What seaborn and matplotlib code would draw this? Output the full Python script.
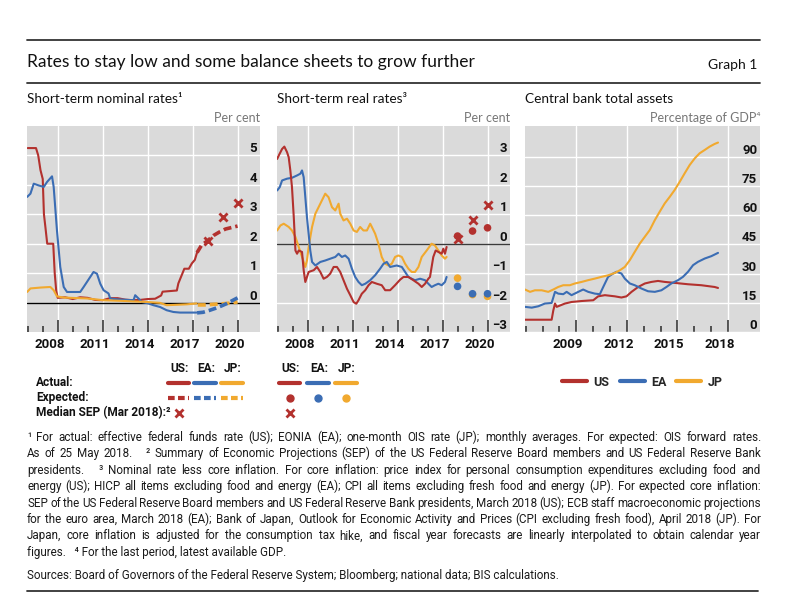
import matplotlib
matplotlib.use("Agg")
import pandas as pd
import matplotlib.pyplot as plt
import seaborn as sns
from matplotlib.lines import Line2D
from matplotlib.transforms import ScaledTranslation

# ---- data ----
# Short-term nominal rates (per cent)
us_nom_t = [2007.0, 2007.55, 2007.7, 2007.85, 2008.0, 2008.08, 2008.17, 2008.3, 2008.7, 2008.8, 2008.9,
            2009.0, 2009.5, 2010.0, 2010.5, 2011.0, 2011.5, 2012.0, 2012.5, 2013.0, 2013.5, 2014.0,
            2014.5, 2015.0, 2015.5, 2015.9, 2016.0, 2016.95, 2017.05, 2017.25, 2017.45, 2017.75,
            2017.95, 2018.15, 2018.3]
us_nom_v = [5.25, 5.25, 5.0, 4.5, 4.2, 3.0, 2.6, 2.0, 2.0, 1.0, 0.4,
            0.16, 0.18, 0.12, 0.18, 0.16, 0.09, 0.08, 0.15, 0.15, 0.1, 0.08,
            0.09, 0.12, 0.13, 0.24, 0.37, 0.41, 0.65, 0.9, 1.15, 1.15,
            1.33, 1.45, 1.7]
us_exp_t = [2018.3, 2018.6, 2019.0, 2019.4, 2019.8, 2020.2, 2020.6, 2021.0]
us_exp_v = [1.7, 1.95, 2.1, 2.28, 2.4, 2.5, 2.55, 2.6]
sep_t = [2019.0, 2020.0, 2021.0]
us_sep_nom = [2.1, 2.9, 3.4]

ea_nom_t = [2006.96, 2007.18, 2007.4, 2007.73, 2008.07, 2008.29, 2008.62, 2008.73, 2008.95, 2009.17,
            2009.4, 2009.62, 2010.5, 2010.73, 2010.95, 2011.17, 2011.39, 2011.62, 2011.84, 2012.06,
            2012.39, 2012.5, 2012.95, 2014.06, 2014.17, 2014.39, 2014.61, 2015.05, 2015.39, 2015.83,
            2016.27, 2016.72, 2017.16, 2018.27]
ea_nom_v = [3.59, 3.7, 4.04, 3.98, 3.93, 4.1, 4.29, 3.93, 2.45, 1.21,
            0.53, 0.36, 0.36, 0.53, 0.7, 0.87, 1.04, 0.98, 0.64, 0.42,
            0.31, 0.14, 0.11, 0.08, 0.25, 0.14, 0.02, -0.03, -0.09, -0.15,
            -0.26, -0.32, -0.34, -0.34]
ea_exp_t = [2018.3, 2018.7, 2019.1, 2019.5, 2019.9, 2020.3, 2020.7, 2021.0]
ea_exp_v = [-0.35, -0.33, -0.27, -0.2, -0.12, -0.03, 0.08, 0.16]

jp_nom_t = [2006.96, 2007.18, 2007.84, 2008.51, 2008.73, 2008.95, 2009.4, 2010.95, 2012.06, 2013.17,
            2014.94, 2015.83, 2016.27, 2017.6, 2018.27]
jp_nom_v = [0.36, 0.48, 0.51, 0.53, 0.42, 0.21, 0.17, 0.14, 0.08, 0.06,
            0.02, -0.01, -0.09, -0.06, -0.03]
jp_exp_t = [2018.35, 2018.8, 2019.4, 2020.0, 2020.5, 2021.0]
jp_exp_v = [-0.08, -0.08, -0.06, -0.04, -0.02, 0.02]

# Short-term real rates (per cent)
us_real_t = [2006.96, 2007.07, 2007.29, 2007.44, 2007.62, 2007.73, 2007.84, 2007.95, 2008.07, 2008.18,
             2008.29, 2008.4, 2008.62, 2008.73, 2008.84, 2008.95, 2009.06, 2009.4, 2009.62, 2009.84,
             2010.06, 2010.28, 2010.5, 2010.73, 2010.95, 2011.17, 2011.39, 2011.62, 2011.84, 2012.06,
             2012.24, 2012.39, 2012.61, 2012.84, 2013.06, 2013.28, 2013.61, 2013.94, 2014.17, 2014.5,
             2014.83, 2015.17, 2015.39, 2015.72, 2016.05, 2016.39, 2016.61, 2016.83, 2017.05, 2017.16,
             2017.27, 2017.38, 2017.54, 2017.72, 2017.94, 2018.05, 2018.16, 2018.27]
us_real_v = [2.88, 3.0, 3.22, 3.3, 3.11, 2.94, 2.49, 1.92, 0.9, -0.23,
             -0.34, -0.23, -0.28, -0.9, -1.3, -1.13, -0.96, -0.9, -0.79, -0.96,
             -1.19, -1.13, -1.02, -0.79, -0.79, -0.96, -1.24, -1.53, -1.75, -1.98,
             -2.04, -1.92, -1.7, -1.58, -1.41, -1.3, -1.36, -1.41, -1.58, -1.58,
             -1.41, -1.22, -1.13, -1.13, -1.24, -1.36, -1.47, -1.36, -1.19, -1.13,
             -0.79, -0.45, -0.23, -0.28, -0.34, -0.17, -0.34, -0.11]
ea_real_t = [2006.96, 2007.13, 2007.29, 2007.62, 2007.95, 2008.29, 2008.51, 2008.62, 2008.73, 2008.84,
             2008.95, 2009.06, 2009.17, 2009.29, 2009.51, 2009.84, 2010.17, 2010.5, 2010.84, 2011.06,
             2011.28, 2011.5, 2011.73, 2011.95, 2012.17, 2012.39, 2012.61, 2012.84, 2013.17, 2013.5,
             2013.83, 2014.06, 2014.28, 2014.5, 2014.94, 2015.28, 2015.5, 2015.72, 2015.94, 2016.16,
             2016.5, 2016.83, 2017.05, 2017.27, 2017.49, 2017.72, 2017.94, 2018.16, 2018.27]
ea_real_v = [1.81, 1.92, 2.15, 2.21, 2.24, 2.32, 2.38, 2.49, 2.26, 1.58,
             0.9, 0.34, -0.23, -0.62, -0.74, -0.62, -0.57, -0.51, -0.45, -0.34,
             -0.45, -0.4, -0.51, -0.85, -1.13, -1.3, -1.41, -1.36, -1.24, -1.07,
             -0.85, -0.68, -0.62, -0.79, -0.74, -0.79, -0.96, -1.13, -1.19, -1.24,
             -1.19, -1.24, -1.36, -1.47, -1.41, -1.36, -1.41, -1.3, -1.13]
jp_real_t = [2006.96, 2007.18, 2007.4, 2007.73, 2007.95, 2008.18, 2008.4, 2008.62, 2008.84, 2008.95,
             2009.06, 2009.29, 2009.51, 2009.84, 2010.17, 2010.39, 2010.62, 2010.84, 2011.06, 2011.17,
             2011.39, 2011.62, 2011.84, 2012.06, 2012.28, 2012.5, 2012.72, 2012.95, 2013.17, 2013.28,
             2013.5, 2013.72, 2013.94, 2014.17, 2014.39, 2014.61, 2014.83, 2015.05, 2015.28, 2015.5,
             2015.72, 2015.94, 2016.16, 2016.39, 2016.61, 2016.94, 2017.27, 2017.49, 2017.72, 2017.94,
             2018.16, 2018.27]
jp_real_v = [0.45, 0.62, 0.68, 0.57, 0.45, 0.23, -0.11, -0.45, -0.79, -0.57,
             -0.11, 0.57, 1.02, 1.36, 1.7, 1.58, 1.24, 1.13, 1.36, 1.02,
             0.79, 0.85, 0.68, 0.45, 0.4, 0.57, 0.45, 0.45, 0.68, 0.57,
             0.34, 0.0, -0.45, -0.68, -0.74, -0.68, -0.45, -0.4, -0.45, -0.68,
             -0.85, -0.96, -0.96, -0.79, -0.45, -0.23, 0.0, -0.06, -0.23, -0.4,
             -0.51, -0.45]
us_real_exp = [0.26, 0.43, 0.54]
ea_real_exp = [-1.45, -1.7, -1.7]
jp_real_exp = [-1.17, -1.73, -1.79]
us_sep_real = [0.17, 0.81, 1.3]

# Central bank total assets (percentage of GDP)
us_cb_t = [2006.96, 2008.54, 2008.64, 2008.74, 2008.84, 2009.33, 2009.72, 2010.32, 2011.01, 2011.3,
           2011.7, 2012.29, 2012.68, 2012.98, 2013.28, 2013.67, 2014.07, 2014.46, 2014.85, 2015.25,
           2015.84, 2016.63, 2017.42, 2018.21, 2018.41]
us_cb_v = [6.3, 6.3, 11.1, 14.6, 12.9, 14.6, 15.4, 15.9, 16.3, 18.3,
           18.9, 18.3, 17.7, 18.3, 20.6, 23.1, 24.9, 25.7, 26.2, 25.7,
           25.2, 24.5, 24.0, 23.1, 22.6]
ea_cb_t = [2006.96, 2007.36, 2007.75, 2008.14, 2008.54, 2008.74, 2008.93, 2009.23, 2009.43, 2009.72,
           2010.12, 2010.41, 2010.71, 2011.1, 2011.4, 2011.6, 2011.89, 2012.19, 2012.39, 2012.68,
           2012.88, 2013.18, 2013.47, 2013.87, 2014.26, 2014.66, 2015.05, 2015.35, 2015.64, 2016.04,
           2016.33, 2016.63, 2016.93, 2017.22, 2017.62, 2018.01, 2018.41]
ea_cb_v = [12.9, 12.5, 13.2, 14.6, 14.9, 20.6, 19.7, 19.4, 20.6, 18.9,
           20.6, 21.8, 20.6, 19.7, 19.4, 23.1, 28.3, 30.0, 30.9, 30.0,
           27.4, 24.9, 24.0, 22.3, 20.9, 20.6, 21.4, 23.1, 24.9, 26.6,
           28.3, 30.9, 34.3, 36.0, 37.7, 38.9, 40.6]
jp_cb_t = [2006.96, 2007.26, 2007.55, 2007.95, 2008.34, 2008.64, 2008.93, 2009.23, 2009.62, 2009.92,
           2010.32, 2010.71, 2011.1, 2011.5, 2011.89, 2012.29, 2012.59, 2012.88, 2013.18, 2013.47,
           2013.77, 2014.07, 2014.36, 2014.66, 2014.95, 2015.25, 2015.55, 2015.84, 2016.14, 2016.43,
           2016.73, 2017.03, 2017.32, 2017.62, 2017.91, 2018.21, 2018.41]
jp_cb_v = [21.8, 20.6, 21.4, 21.4, 20.6, 21.8, 23.1, 24.0, 24.0, 24.9,
           25.7, 26.6, 27.4, 28.3, 29.1, 30.3, 31.7, 33.4, 36.9, 41.1,
           45.4, 48.9, 52.3, 57.4, 61.7, 66.0, 69.4, 72.9, 77.1, 81.4,
           85.7, 89.1, 91.7, 93.4, 95.1, 96.5, 97.2]

rate_label_years = [2008, 2011, 2014, 2017, 2020]
assets_label_years = [2009, 2012, 2015, 2018]

footnotes = [
    "\u00b9 For actual: effective federal funds rate (US); EONIA (EA); one-month OIS rate (JP); monthly averages. For expected: OIS forward rates.",
    "As of 25 May 2018.   \u00b2 Summary of Economic Projections (SEP) of the US Federal Reserve Board members and US Federal Reserve Bank",
    "presidents.   \u00b3 Nominal rate less core inflation. For core inflation: price index for personal consumption expenditures excluding food and",
    "energy (US); HICP all items excluding food and energy (EA); CPI all items excluding fresh food and energy (JP). For expected core inflation:",
    "SEP of the US Federal Reserve Board members and US Federal Reserve Bank presidents, March 2018 (US); ECB staff macroeconomic projections",
    "for the euro area, March 2018 (EA); Bank of Japan, Outlook for Economic Activity and Prices (CPI excluding fresh food), April 2018 (JP). For",
    "Japan, core inflation is adjusted for the consumption tax hike, and fiscal year forecasts are linearly interpolated to obtain calendar year",
    "figures.   \u2074 For the last period, latest available GDP.",
]
sources = "Sources: Board of Governors of the Federal Reserve System; Bloomberg; national data; BIS calculations."

# ---- style ----
RED, BLUE, GOLD = "#b3312e", "#3b6db4", "#f1a92f"
BG = "#dadada"
DASH = (0, (2.2, 1.1))

sns.set_theme(style="white")
plt.rcParams["font.family"] = ["Lato", "DejaVu Sans"]
NARROW = ["Roboto", "DejaVu Sans"]

W, H = 793, 600
fig = plt.figure(figsize=(W / 100, H / 100), dpi=100)


def fx(x):
    return x / W


def fy(y):
    return 1 - y / H


def box(l, t, r, b):
    return [l / W, 1 - b / H, (r - l) / W, (b - t) / H]


ax1 = fig.add_axes(box(27, 126, 260, 332))
ax2 = fig.add_axes(box(277, 126, 510, 332))
ax3 = fig.add_axes(box(525, 126, 760, 332))

# panel 1: nominal rates
for t, v, c in [(us_nom_t, us_nom_v, RED), (ea_nom_t, ea_nom_v, BLUE), (jp_nom_t, jp_nom_v, GOLD)]:
    sns.lineplot(x=t, y=v, ax=ax1, color=c, lw=1.5, sort=False, estimator=None)
for t, v, c in [(jp_exp_t, jp_exp_v, GOLD), (ea_exp_t, ea_exp_v, BLUE), (us_exp_t, us_exp_v, RED)]:
    sns.lineplot(x=t, y=v, ax=ax1, color=c, lw=2.6, linestyle=DASH, sort=False, estimator=None)
sns.scatterplot(x=sep_t, y=us_sep_nom, ax=ax1, marker="x", color=RED, s=34, linewidth=2, zorder=5)
ax1.axhline(0, color="black", lw=1, zorder=1.5)

# panel 2: real rates
for t, v, c in [(jp_real_t, jp_real_v, GOLD), (ea_real_t, ea_real_v, BLUE), (us_real_t, us_real_v, RED)]:
    sns.lineplot(x=t, y=v, ax=ax2, color=c, lw=1.5, sort=False, estimator=None)
for v, c in [(jp_real_exp, GOLD), (ea_real_exp, BLUE), (us_real_exp, RED)]:
    sns.scatterplot(x=sep_t, y=v, ax=ax2, color=c, s=30, edgecolor="none", zorder=4)
sns.scatterplot(x=sep_t, y=us_sep_real, ax=ax2, marker="x", color=RED, s=34, linewidth=2, zorder=5)
ax2.axhline(0, color="#3a3a3a", lw=1, zorder=1.5)

# panel 3: central bank assets
cb = pd.concat([
    pd.DataFrame({"year": us_cb_t, "value": us_cb_v, "cb": "US"}),
    pd.DataFrame({"year": ea_cb_t, "value": ea_cb_v, "cb": "EA"}),
    pd.DataFrame({"year": jp_cb_t, "value": jp_cb_v, "cb": "JP"}),
])
sns.lineplot(data=cb, x="year", y="value", hue="cb", hue_order=["US", "EA", "JP"],
             palette={"US": RED, "EA": BLUE, "JP": GOLD}, ax=ax3, lw=1.5, sort=False, estimator=None)
handles, labels = ax3.get_legend_handles_labels()
leg = ax3.legend(handles, labels, loc="center", bbox_to_anchor=(0.5, -0.243), ncol=3, frameon=False,
                 handlelength=2.0, handletextpad=0.5, columnspacing=0.8,
                 prop={"family": NARROW, "weight": "bold", "size": 9})
for h in leg.legend_handles:
    h.set_linewidth(3)


def style_axis(ax, xlim, ylim, yticks, majors, minors, label_years):
    ax.set_facecolor(BG)
    for s in ax.spines.values():
        s.set_visible(False)
    ax.set_xlabel("")
    ax.set_ylabel("")
    ax.set_xlim(*xlim)
    ax.set_ylim(*ylim)
    ax.set_xticks(majors)
    ax.set_xticks(minors, minor=True)
    ax.tick_params(axis="x", which="major", direction="in", length=9, width=1.1,
                   color="#2b2b2b", labelbottom=False, bottom=True)
    ax.tick_params(axis="x", which="minor", direction="in", length=4.5, width=1.1,
                   color="#2b2b2b", bottom=True)
    ax.set_yticks(yticks)
    ax.yaxis.tick_right()
    ax.tick_params(axis="y", length=0, pad=-2)
    ax.grid(True, which="major", color="white", lw=1)
    ax.set_axisbelow(True)
    up = ScaledTranslation(0, 0.08, fig.dpi_scale_trans)
    for lbl in ax.get_yticklabels():
        lbl.set_ha("right")
        lbl.set_fontweight("bold")
        lbl.set_family(NARROW)
        lbl.set_fontsize(9.5)
        lbl.set_color("#111111")
        lbl.set_transform(lbl.get_transform() + up)
    sec = ax.secondary_xaxis("bottom")
    sec.set_xticks([y + 0.5 for y in label_years], labels=[str(y) for y in label_years])
    sec.tick_params(length=0, pad=4)
    sec.spines["bottom"].set_visible(False)
    for lbl in sec.get_xticklabels():
        lbl.set_fontweight("bold")
        lbl.set_family(NARROW)
        lbl.set_fontsize(9.5)
        lbl.set_color("#111111")


style_axis(ax1, (2006.95, 2022.5), (-1, 6), range(0, 6), range(2009, 2022, 3), range(2007, 2022),
           rate_label_years)
style_axis(ax2, (2006.95, 2022.5), (-3, 4), range(-3, 4), range(2009, 2022, 3), range(2007, 2022),
           rate_label_years)
style_axis(ax3, (2006.96, 2020.9), (0, 105.7), range(0, 91, 15), range(2010, 2020, 3),
           range(2007, 2020), assets_label_years)

# ---- header ----
fig.add_artist(Line2D([fx(27), fx(760)], [fy(40), fy(40)], color="#333333", lw=1.3))
fig.add_artist(Line2D([fx(27), fx(760)], [fy(83), fy(83)], color="#333333", lw=1.3))
fig.text(fx(27), fy(62), "Rates to stay low and some balance sheets to grow further",
         fontsize=12.5, va="center", ha="left", color="#111111")
fig.text(fx(757), fy(65), "Graph 1", fontsize=10, va="center", ha="right", color="#111111")

for x, t in [(27, "Short-term nominal rates\u00b9"), (277, "Short-term real rates\u00b3"),
             (525, "Central bank total assets")]:
    fig.text(fx(x), fy(99), t, fontsize=9.8, va="center", ha="left", color="#111111")
for x, t in [(260, "Per cent"), (510, "Per cent"), (760, "Percentage of GDP\u2074")]:
    fig.text(fx(x), fy(118), t, fontsize=9, va="center", ha="right", color="#777777")

# ---- legend table for panels 1 and 2 ----
ROW_HEAD, ROW_ACT, ROW_EXP, ROW_SEP = 368, 383, 398, 413
lkw = dict(family=NARROW, fontweight="bold", fontsize=8.6, va="center", color="#111111")
for y, t in [(ROW_ACT, "Actual:"), (ROW_EXP, "Expected:"), (ROW_SEP, "Median SEP (Mar 2018):\u00b2")]:
    fig.text(fx(36), fy(y), t, ha="left", **lkw)
cols1 = [(168, 189, RED, "US:"), (194, 216, BLUE, "EA:"), (221, 243, GOLD, "JP:")]
cols2 = [(279, 300, RED, "US:"), (307, 329, BLUE, "EA:"), (335, 357, GOLD, "JP:")]
for cols, dots in [(cols1, False), (cols2, True)]:
    for x0, x1, c, t in cols:
        xm = (x0 + x1) / 2
        fig.text(fx(xm + 1), fy(ROW_HEAD), t, ha="center", **lkw)
        fig.add_artist(Line2D([fx(x0), fx(x1)], [fy(ROW_ACT), fy(ROW_ACT)], color=c, lw=3))
        if dots:
            fig.add_artist(Line2D([fx(xm)], [fy(ROW_EXP)], marker="o", ms=5, color=c, lw=0))
        else:
            fig.add_artist(Line2D([fx(x0), fx(x1)], [fy(ROW_EXP), fy(ROW_EXP)], color=c, lw=3,
                                  linestyle=(0, (1.6, 0.8))))
    xm = (cols[0][0] + cols[0][1]) / 2
    fig.add_artist(Line2D([fx(xm)], [fy(ROW_SEP)], marker="x", ms=5.5, mew=2, color=RED, lw=0))

# ---- footnotes (justified) ----
renderer = fig.canvas.get_renderer()
fkw = dict(family=NARROW, fontsize=8.4, va="baseline", ha="left", color="#1a1a1a")
left_px, right_px = 27, 761
for i, line in enumerate(footnotes):
    y = fy(437 + 16.4 * i + 4)
    if i == len(footnotes) - 1:
        fig.text(fx(left_px), y, line, **fkw)
        continue
    words = line.split(" ")
    texts = [fig.text(0, y, w, **fkw) for w in words]
    widths = [t.get_window_extent(renderer).width for t in texts]
    gap = (right_px - left_px - sum(widths)) / (len(words) - 1)
    x = left_px
    for t, w in zip(texts, widths):
        t.set_x(fx(x))
        x += w + gap
fig.text(fx(27), fy(575 + 4), sources, **fkw)
fig.add_artist(Line2D([fx(27), fx(758)], [fy(591), fy(591)], color="#333333", lw=1.3))

fig.savefig("out.png", dpi=100)
